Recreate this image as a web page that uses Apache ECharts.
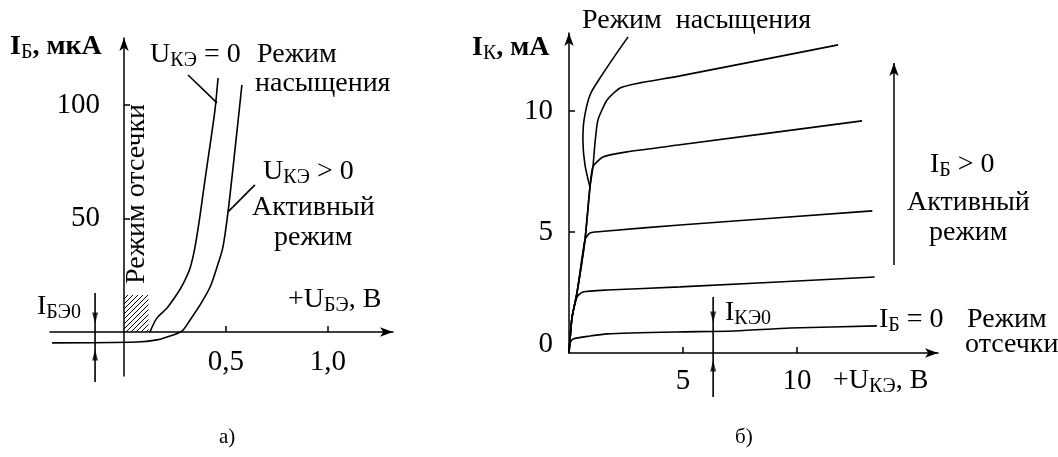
<!DOCTYPE html>
<html>
<head>
<meta charset="utf-8">
<script src="https://cdn.jsdelivr.net/npm/echarts@6/dist/echarts.min.js"></script>
<style>
  html, body { margin: 0; padding: 0; background: #fff; }
  #chart { width: 1058px; height: 457px; }
</style>
</head>
<body>
<div id="chart"></div>
<script>
// ---- Input characteristics I_Б(U_БЭ): volts, microamps ----
const inputAtZeroUce = [[0.127, 0], [0.162, 6.2], [0.211, 10.6], [0.260, 16.7], [0.294, 22.0], [0.324, 28.2],
  [0.348, 37.4], [0.373, 51.5], [0.397, 67.0], [0.422, 82.4], [0.446, 97.8], [0.461, 111.9]];
const inputAtPositiveUce = [[-0.353, -4.8], [0.064, -4.4], [0.162, -3.5], [0.211, -2.2], [0.284, 0.4], [0.324, 5.3],
  [0.373, 11.9], [0.422, 19.8], [0.456, 28.6], [0.485, 37.4], [0.510, 52.9], [0.544, 80.2], [0.578, 108.8]];
const cutoffHatch = [[0, 0, 0.12, 16.3]];
const leaderZeroUce = [[0.314, 113.2], [0.456, 100.9]];
const leaderPositiveUce = [[0.642, 64.8], [0.510, 52.9]];
const reverseBaseMarker = [[-0.142, 17.2], [-0.142, -22]];
const reverseBaseArrowDown = [[-0.142, 6.2]];
const reverseBaseArrowUp = [[-0.142, -10.1]];
const inputXTicks = [0.5, 1.0];
const inputYTicks = [50, 100];

// ---- Output characteristics I_К(U_КЭ): volts, milliamps ----
const outputIb0 = [[0, 0], [0.04, 0.41], [0.18, 0.58], [0.92, 0.70], [1.67, 0.79], [4.74, 0.87], [7.19, 0.91],
  [9.69, 1.03], [13.5, 1.12]];
const outputIb1 = [[0, 0], [0.13, 1.45], [0.35, 2.31], [0.61, 2.52], [1.67, 2.60], [4.87, 2.73], [13.4, 3.14]];
const outputIb2 = [[0, 0], [0.13, 1.45], [0.35, 2.48], [0.70, 4.67], [0.92, 4.96], [1.67, 5.04], [4.87, 5.29],
  [13.3, 5.87]];
const outputIb3 = [[0, 0], [0.13, 1.45], [0.35, 2.48], [0.70, 4.67], [0.92, 6.86], [1.05, 7.69], [1.49, 8.10],
  [2.54, 8.31], [4.87, 8.60], [12.85, 9.59]];
const outputIb4 = [[0, 0], [0.13, 1.45], [0.35, 2.48], [0.70, 4.67], [0.92, 6.86], [1.05, 7.69], [1.14, 8.68],
  [1.27, 9.63], [1.67, 10.45], [2.24, 10.95], [3.11, 11.16], [4.87, 11.45], [11.8, 12.73]];
const saturationEdge = [[0.92, 6.86], [0.70, 7.77], [0.61, 8.80], [0.66, 9.63], [0.92, 10.66], [1.36, 11.36],
  [1.89, 12.11], [2.59, 13.06]];
const activeArrow = [[14.25, 3.64], [14.25, 11.98]];
const leakageMarker = [[6.32, 2.31], [6.32, -1.82]];
const leakageArrowDown = [[6.32, 1.49]];
const leakageArrowUp = [[6.32, -0.54]];
const outputXTicks = [5, 10];
const outputYTicks = [5, 10];
const outputYLabels = [0, 5, 10];

const FONT = 'Liberation Serif';
const INK = '#000';

const rich = {
  n: { fontFamily: FONT, fontSize: 28, fill: INK },
  b: { fontFamily: FONT, fontSize: 28, fontWeight: 'bold', fill: INK },
  s: { fontFamily: FONT, fontSize: 20, fill: INK, padding: [11, 0, 0, 0] },
  c: { fontFamily: FONT, fontSize: 21, fill: INK }
};

// annotation texts: [text, x, y, rotation]
const notes = [
  ['{b|I}{s|Б}{b|, мкА}', 10, 47],
  ['{n|U}{s|КЭ}{n| = 0}', 150, 55],
  ['{n|Режим}', 257, 55],
  ['{n|насыщения}', 255, 84],
  ['{n|U}{s|КЭ}{n| > 0}', 263, 172],
  ['{n|Активный}', 252, 208],
  ['{n|режим}', 274, 238],
  ['{n|Режим отсечки}', 137, 284, Math.PI / 2],
  ['{n|+U}{s|БЭ}{n|, В}', 288, 300],
  ['{n|I}{s|БЭ0}', 37, 307],
  ['{c|а)}', 219, 437],
  ['{b|I}{s|К}{b|, мА}', 472, 48],
  ['{n|Режим  насыщения}', 582, 21],
  ['{n|I}{s|Б}{n| > 0}', 930, 165],
  ['{n|Активный}', 907, 203],
  ['{n|режим}', 929, 233],
  ['{n|I}{s|КЭ0}', 725, 313],
  ['{n|I}{s|Б}{n| = 0}', 879, 320],
  ['{n|Режим}', 967, 320],
  ['{n|отсечки}', 965, 345],
  ['{n|+U}{s|КЭ}{n|, В}', 833, 381],
  ['{c|б)}', 735, 437]
];

const lineStyle = { color: INK, width: 1.6 };
const axisCommon = (extra) => Object.assign({
  type: 'value',
  splitLine: { show: false },
  axisLine: { onZero: true, symbol: ['none', 'arrow'], symbolSize: [7, 13], lineStyle: { color: INK, width: 1.5 } }
}, extra);

function curve(data, xi, smooth) {
  return {
    type: 'line', data, xAxisIndex: xi, yAxisIndex: xi, showSymbol: false, symbol: 'none',
    smooth: smooth, lineStyle, silent: true, clip: false
  };
}
function arrowHead(data, xi, rotate) {
  return {
    type: 'scatter', data, xAxisIndex: xi, yAxisIndex: xi, symbol: 'triangle', symbolSize: [6, 11],
    symbolRotate: rotate, itemStyle: { color: INK }, silent: true, clip: false
  };
}

const chart = echarts.init(document.getElementById('chart'), null, { renderer: 'canvas' });
chart.setOption({
  backgroundColor: '#fff',
  animation: false,
  grid: [
    { left: 50, top: 38, width: 343, height: 338, outerBoundsMode: 'none' },
    { left: 569, top: 33, width: 369, height: 320, outerBoundsMode: 'none' }
  ],
  xAxis: [
    axisCommon({
      gridIndex: 0, min: -0.363, max: 1.319,
      axisTick: { inside: true, length: 6, customValues: inputXTicks, lineStyle: { color: INK, width: 1.5 } },
      // labels sit under the zero line, above the lower edge of the plot box
      axisLabel: { customValues: inputXTicks, margin: -28, fontFamily: FONT, fontSize: 29, color: INK,
        formatter: v => v.toFixed(1).replace('.', ',') }
    }),
    axisCommon({
      gridIndex: 1, min: 0, max: 16.18,
      axisTick: { inside: true, length: 6, customValues: outputXTicks, lineStyle: { color: INK, width: 1.5 } },
      axisLabel: { customValues: outputXTicks, margin: 14, fontFamily: FONT, fontSize: 29, color: INK }
    })
  ],
  yAxis: [
    axisCommon({
      gridIndex: 0, min: -19.4, max: 129.5,
      axisTick: { inside: true, length: 6, customValues: inputYTicks, lineStyle: { color: INK, width: 1.5 } },
      axisLabel: { customValues: inputYTicks, margin: -50, fontFamily: FONT, fontSize: 29, color: INK }
    }),
    axisCommon({
      gridIndex: 1, min: 0, max: 13.22,
      axisTick: { inside: true, length: 6, customValues: outputYTicks, lineStyle: { color: INK, width: 1.5 } },
      axisLabel: { customValues: outputYLabels, margin: 16, fontFamily: FONT, fontSize: 29, color: INK,
        formatter: v => (v === 0 ? '{z|0}' : String(v)),
        rich: { z: { fontFamily: FONT, fontSize: 29, color: INK, padding: [0, 0, 18, 0] } } }
    })
  ],
  series: [
    curve(inputAtZeroUce, 0, 0.3),
    curve(inputAtPositiveUce, 0, 0.3),
    curve(leaderZeroUce, 0, false),
    curve(leaderPositiveUce, 0, false),
    curve(reverseBaseMarker, 0, false),
    arrowHead(reverseBaseArrowDown, 0, 180),
    arrowHead(reverseBaseArrowUp, 0, 0),
    {
      type: 'custom', xAxisIndex: 0, yAxisIndex: 0, data: cutoffHatch, silent: true,
      encode: { x: [0, 2], y: [1, 3] },
      renderItem: (params, api) => {
        const p0 = api.coord([api.value(0), api.value(1)]);
        const p1 = api.coord([api.value(2), api.value(3)]);
        const x0 = p0[0], yb = p0[1], x1 = p1[0], yt = p1[1];
        const children = [];
        for (let c = x0 + yt + 4; c < x1 + yb; c += 5) {
          const xa = Math.max(x0, c - yb), xb = Math.min(x1, c - yt);
          if (xb > xa) {
            children.push({ type: 'line', shape: { x1: xa, y1: c - xa, x2: xb, y2: c - xb },
              style: { stroke: INK, lineWidth: 1 } });
          }
        }
        return { type: 'group', children };
      }
    },
    curve(outputIb0, 1, 0.2),
    curve(outputIb1, 1, 0.2),
    curve(outputIb2, 1, 0.2),
    curve(outputIb3, 1, 0.2),
    curve(outputIb4, 1, 0.2),
    curve(saturationEdge, 1, 0.3),
    curve(leakageMarker, 1, false),
    arrowHead(leakageArrowDown, 1, 180),
    arrowHead(leakageArrowUp, 1, 0),
    {
      type: 'line', data: [], xAxisIndex: 1, yAxisIndex: 1, silent: true,
      markLine: {
        silent: true, animation: false, symbol: ['none', 'arrow'], symbolSize: [7, 13],
        label: { show: false }, lineStyle: { type: 'solid', color: INK, width: 1.5 },
        data: [[{ coord: activeArrow[0] }, { coord: activeArrow[1] }]]
      }
    }
  ],
  graphic: notes.map(([text, x, y, rot]) => ({
    type: 'text', x, y, rotation: rot || 0, silent: true,
    style: { text, rich, fill: INK, align: 'left', verticalAlign: 'middle' }
  }))
});
</script>
</body>
</html>
